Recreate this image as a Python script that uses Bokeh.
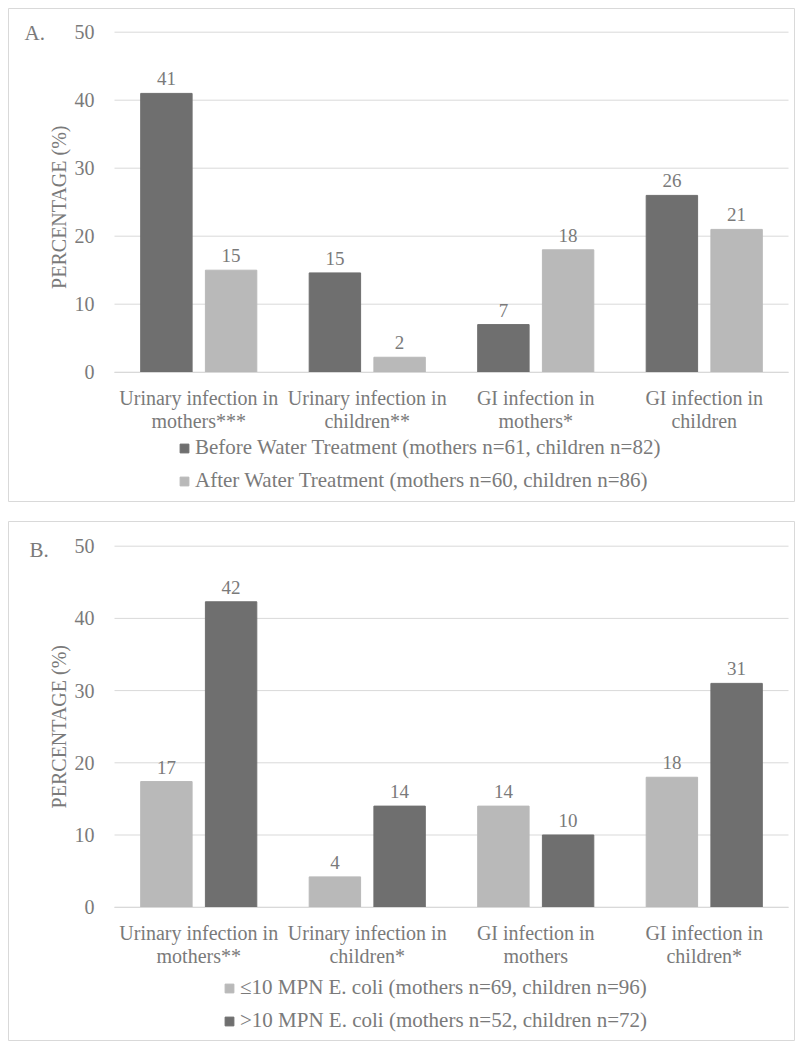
import math
from bokeh.plotting import figure
from bokeh.models import (ColumnDataSource, Range1d, LabelSet, Legend, LegendItem, Label,
                          FixedTicker)
from bokeh.transform import dodge
from bokeh.layouts import column
from bokeh.embed import file_html
from bokeh.resources import INLINE
from bokeh.core.properties import value

# ---------------- data ----------------
categories_a = ["Urinary infection in\nmothers***", "Urinary infection in\nchildren**",
                "GI infection in\nmothers*", "GI infection in\nchildren"]
before_vals = [41.0, 14.6, 7.0, 26.0]
after_vals = [15.0, 2.2, 18.0, 21.0]
before_labels = ["41", "15", "7", "26"]
after_labels = ["15", "2", "18", "21"]
series_a = ["Before Water Treatment (mothers n=61, children n=82)",
            "After Water Treatment (mothers n=60, children n=86)"]

categories_b = ["Urinary infection in\nmothers**", "Urinary infection in\nchildren*",
                "GI infection in\nmothers", "GI infection in\nchildren*"]
low_vals = [17.4, 4.2, 14.0, 18.0]
high_vals = [42.3, 14.0, 10.0, 31.0]
low_labels = ["17", "4", "14", "18"]
high_labels = ["42", "14", "10", "31"]
series_b = ["\u226410 MPN E. coli (mothers n=69, children n=96)",
            ">10 MPN E. coli (mothers n=52, children n=72)"]

y_ticks = [0, 10, 20, 30, 40, 50]
y_title = "PERCENTAGE (%)"

# ---------------- style / layout ----------------
DARK = "#6f6f6f"
LIGHT = "#b9b9b9"
TEXT = "#7a7a7a"
GRID = "#d9d9d9"
FONT = "Liberation Serif"
W = 787                 # panel width (px)
PLOT_LEFT = 106         # plot area left edge inside panel (px)
PLOT_RIGHT = 780        # plot area right edge inside panel (px)
OFF = 0.192             # bar offset within a group (category units)
BAR_W = 0.305


def make_panel(cats, v1, v2, l1, l2, names, c1, c2, letter, H, y50_px, y0_px,
               letter_dx, letter_dy, title_dy, leg_x, leg_y):
    n = len(cats)
    xs = list(range(1, n + 1))
    src = ColumnDataSource(dict(x=xs, v1=v1, v2=v2, l1=l1, l2=l2))

    ppx = (PLOT_RIGHT - PLOT_LEFT) / n          # px per category
    x_start = 0.5 - PLOT_LEFT / ppx
    x_end = n + 0.5 + (W - PLOT_RIGHT) / ppx
    ppy = (y0_px - y50_px) / 50.0               # px per percent
    y_end = 50 + y50_px / ppy
    y_start = -(H - y0_px) / ppy

    p = figure(x_range=Range1d(x_start, x_end), y_range=Range1d(y_start, y_end),
               width=W, height=H, output_backend="svg", toolbar_location=None,
               min_border=0)
    p.outline_line_color = GRID
    p.xgrid.visible = False
    p.ygrid.visible = False

    # horizontal grid lines across the plot area only
    p.segment(x0=0.5, x1=n + 0.5, y0=y_ticks, y1=y_ticks, line_color=GRID, line_width=1)

    p.vbar(x=dodge("x", -OFF), top="v1", width=BAR_W, bottom=0, source=src,
           fill_color=c1, line_color=c1)
    p.vbar(x=dodge("x", OFF), top="v2", width=BAR_W, bottom=0, source=src,
           fill_color=c2, line_color=c2)

    for col, lab, dx in (("v1", "l1", -OFF), ("v2", "l2", OFF)):
        p.add_layout(LabelSet(x=dodge("x", dx), y=col, text=lab, source=src,
                              text_align="center", text_baseline="bottom", y_offset=8,
                              text_font=value(FONT), text_font_size="19px", text_color=TEXT))

    # zero-size markers that only give the legend its square swatches
    s1 = p.scatter(x=dodge("x", -OFF), y="v1", source=src, size=0, marker="square",
                   fill_color=c1, line_color=c1)
    s2 = p.scatter(x=dodge("x", OFF), y="v2", source=src, size=0, marker="square",
                   fill_color=c2, line_color=c2)
    leg = Legend(items=[LegendItem(label=names[0], renderers=[s1], index=0),
                        LegendItem(label=names[1], renderers=[s2], index=0)],
                 location=(leg_x, leg_y), orientation="vertical",
                 glyph_width=22, glyph_height=24, label_height=24, label_standoff=0,
                 spacing=8, padding=0, margin=0, border_line_color=None,
                 background_fill_alpha=0, label_text_font=FONT,
                 label_text_font_size="21px", label_text_color=TEXT)
    p.add_layout(leg)

    # y axis at the plot-area left edge
    yax = p.yaxis[0]
    yax.fixed_location = 0.5
    yax.ticker = FixedTicker(ticks=y_ticks)
    yax.axis_line_color = None
    yax.major_tick_line_color = None
    yax.minor_tick_line_color = None
    yax.major_label_text_font = FONT
    yax.major_label_text_font_size = "20px"
    yax.major_label_text_color = TEXT
    yax.major_label_standoff = 14

    # x axis at y = 0 with two-line category labels
    xax = p.xaxis[0]
    xax.fixed_location = 0
    xax.bounds = (0.5, n + 0.5)
    xax.ticker = FixedTicker(ticks=xs)
    xax.major_label_overrides = {x: c for x, c in zip(xs, cats)}
    xax.axis_line_color = GRID
    xax.major_tick_line_color = None
    xax.minor_tick_line_color = None
    xax.major_label_text_font = FONT
    xax.major_label_text_font_size = "20px"
    xax.major_label_text_line_height = 1.05
    xax.major_label_text_color = TEXT
    xax.major_label_standoff = 9

    # y-axis title
    p.add_layout(Label(x=0.5, y=25, x_offset=-56, y_offset=title_dy, text=y_title,
                       angle=math.pi / 2, text_font=FONT, text_font_size="20px",
                       text_color=TEXT, text_align="center", text_baseline="middle"))
    # panel letter
    p.add_layout(Label(x=0.5, y=50, x_offset=letter_dx, y_offset=letter_dy, text=letter,
                       text_font=FONT, text_font_size="21px", text_color=TEXT,
                       text_align="left", text_baseline="middle"))
    return p


pa = make_panel(categories_a, before_vals, after_vals, before_labels, after_labels,
                series_a, DARK, LIGHT, "A.", 494, 23.7, 363.7, -90, -1, -5, 165, 9)
pb = make_panel(categories_b, low_vals, high_vals, low_labels, high_labels,
                series_b, LIGHT, DARK, "B.", 520, 24.7, 385.7, -85, -4, 0, 210, 8)

layout = column(pa, pb, spacing=19, margin=(8, 8, 0, 8))
open("out.html", "w").write(file_html(layout, INLINE))
